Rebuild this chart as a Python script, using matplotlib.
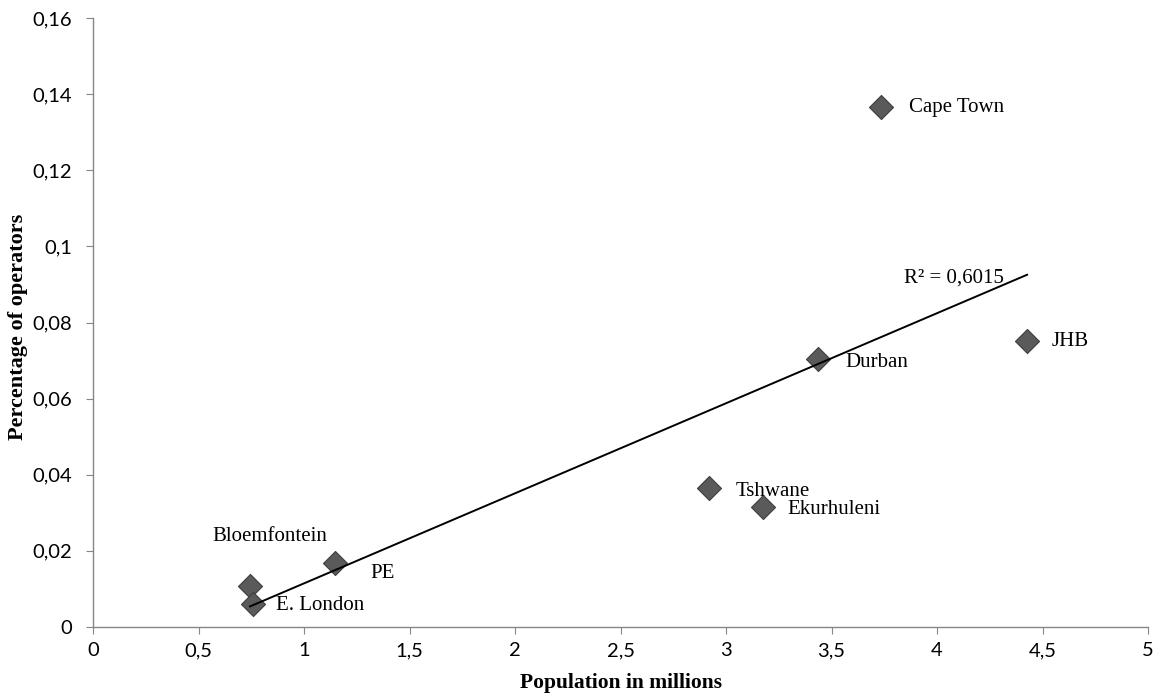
import matplotlib
matplotlib.use("Agg")
import matplotlib.pyplot as plt
import numpy as np

cities = ["Cape Town", "JHB", "Durban", "Tshwane", "Ekurhuleni", "PE", "Bloemfontein", "E. London"]
population = [3.735, 4.427, 3.436, 2.92, 3.175, 1.147, 0.744, 0.758]
pct_operators = [0.1366, 0.0751, 0.0704, 0.0365, 0.0315, 0.0168, 0.0108, 0.0060]
x_ticks = [0, 0.5, 1, 1.5, 2, 2.5, 3, 3.5, 4, 4.5, 5]
y_ticks = [0, 0.02, 0.04, 0.06, 0.08, 0.1, 0.12, 0.14, 0.16]
r2_label = "R² = 0,6015"

# label offsets in pixels (dx, dy, ha)
label_offsets = {
    "Cape Town": (28, 0, "left"), "JHB": (25, 0, "left"), "Durban": (27, -3, "left"),
    "Tshwane": (27, -3, "left"), "Ekurhuleni": (24, -2, "left"), "PE": (35, -10, "left"),
    "Bloemfontein": (20, 49, "center"), "E. London": (23, -1, "left"),
}

fig = plt.figure(figsize=(11.6, 6.99), dpi=100)
ax = fig.add_axes([93/1160, 1-627/699, (1148-93)/1160, (627-18)/699])

ax.scatter(population, pct_operators, marker="D", s=150, color="#5a5a5a",
           edgecolor="#3f3f3f", linewidth=0.8, zorder=3)

x = np.array(population); y = np.array(pct_operators)
m, b = np.polyfit(x, y, 1)
xs = np.array([x.min(), x.max()])
ax.plot(xs, m*xs + b, color="black", lw=1.4, zorder=4)
ax.text(4.318, 0.0904, r2_label, fontsize=15, family="Liberation Serif",
        ha="right", va="baseline")

for c, px, py in zip(cities, population, pct_operators):
    dx, dy, ha = label_offsets[c]
    ax.annotate(c, (px, py), xytext=(dx, dy), textcoords="offset pixels",
                ha=ha, va="center", fontsize=15, family="Liberation Serif", zorder=5)

ax.set_xlim(0, 5)
ax.set_ylim(0, 0.16)
ax.set_xticks(x_ticks)
ax.set_yticks(y_ticks)
def fmt(v):
    return ("%g" % v).replace(".", ",")
ax.set_xticklabels([fmt(v) for v in x_ticks])
ax.set_yticklabels([fmt(v) for v in y_ticks])
for lab in ax.get_xticklabels() + ax.get_yticklabels():
    lab.set_family("Lato")
    lab.set_fontsize(14.5)
ax.spines["top"].set_visible(False)
ax.spines["right"].set_visible(False)
for s in ("left", "bottom"):
    ax.spines[s].set_color("#868686")
    ax.spines[s].set_linewidth(1.0)
ax.tick_params(direction="out", length=5, color="#868686")
ax.tick_params(axis="y", pad=10)
ax.tick_params(axis="x", pad=6)

ax.set_xlabel("Population in millions", fontsize=15.5, family="Liberation Serif",
              fontweight="bold", va="center")
ax.set_ylabel("Percentage of operators", fontsize=16, family="Liberation Serif",
              fontweight="bold", va="center")
ax.xaxis.set_label_coords(0.5, (627-683)/609)
ax.yaxis.set_label_coords((18-93)/1055, 0.5 - 4/609)

fig.savefig("out.png", dpi=100)
